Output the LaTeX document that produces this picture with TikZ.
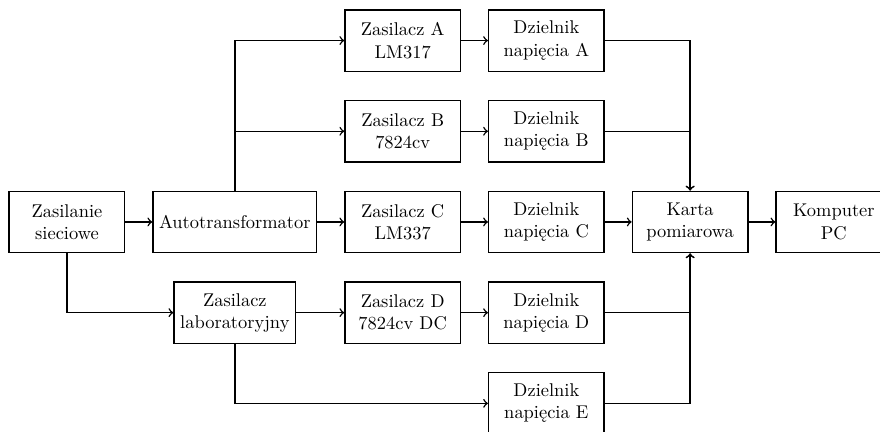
\documentclass[tikz,border=0pt]{standalone}
\usepackage{fontspec}
\usetikzlibrary{positioning}

\tikzset{blok/.style={draw, thick, minimum width=2.2cm, minimum height=1.17cm, align=center}}

\begin{document}
\begin{tikzpicture}[node distance=0.53cm and 0.51cm]
    \useasboundingbox (-1.276,-4.0) rectangle (15.49,4.229);
    \node[blok] (siec) at (0,0) {Zasilanie\\sieciowe};
    \node[blok, right=of siec] (auto) {Autotransformator};
    \node[blok, right=of auto] (zasC) {Zasilacz C\\LM337};
    \node[blok, above=of zasC] (zasB) {Zasilacz B\\7824cv};
    \node[blok, above=of zasB] (zasA) {Zasilacz A\\LM317};
    \node[blok, below=of zasC] (zasD) {Zasilacz D\\7824cv DC};
    \node[blok, below=of auto] (lab) {Zasilacz\\laboratoryjny};
    \foreach \x in {A,...,D} {\node[blok, right=of zas\x] (dz\x) {Dzielnik\\napięcia \x};}
    \node[blok, below=of dzD] (dzE) {Dzielnik\\napięcia E};
    \node[blok, right=of dzC] (karta) {Karta\\pomiarowa};
    \node[blok, right=of karta] (pc) {Komputer\\PC};
    \begin{scope}[thick, ->]
    \draw (siec) -- (auto);
    \draw (siec) |- (lab);
    \draw (auto) -- (zasC);
    \draw (auto) |- (zasA);
    \draw (auto) |- (zasB);
    \draw (lab) -- (zasD);
    \draw (lab) |- (dzE);
    \foreach \x in {A,...,D} {\draw (zas\x) -- (dz\x);}
    \foreach \x in {A,B,D,E} {\draw (dz\x) -| (karta);} % A, B od gory, D, E od dolu
    \draw (dzC) -- (karta);
    \draw (karta) -- (pc);
    \end{scope}
\end{tikzpicture}
\end{document}
